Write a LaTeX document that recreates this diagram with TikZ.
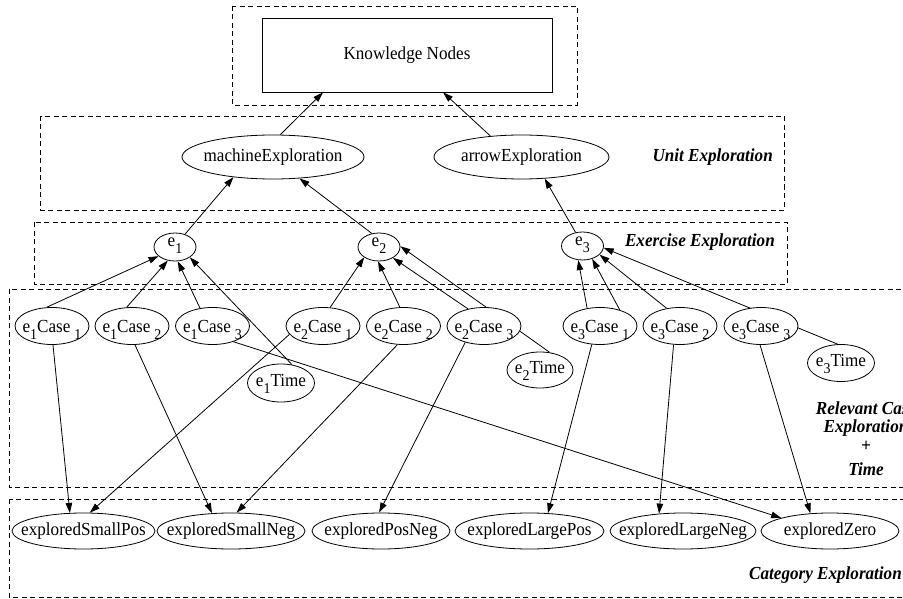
\documentclass[tikz,border=0pt]{standalone}
\usepackage{fontspec}
\setmainfont{Liberation Serif}[FakeStretch=0.93]
\usetikzlibrary{shapes.geometric,arrows.meta}
\pgfdeclarelayer{bg}
\pgfsetlayers{bg,main}
\newcommand\zb[1]{\makebox[0pt]{#1}}
\newcommand\sbs[1]{\raisebox{-7pt}{\fontsize{15}{15}\selectfont #1}}
\newcommand\ecase[2]{\zb{e\sbs{#1}Case\sbs{\hspace{4pt}#2}}}
\newcommand\etime[1]{\zb{e\sbs{#1}Time}}
\newcommand\enode[1]{\zb{e\sbs{#1}}}
\begin{document}
\begin{tikzpicture}[x=1pt,y=-1pt,
  base/.style={font=\fontsize{18.4}{21}\selectfont, inner sep=0pt},
  rectnode/.style={base, rectangle, draw, fill=white, line width=0.8pt},
  ell/.style={base, ellipse, draw, fill=white, line width=0.8pt},
  unitnode/.style={ell, minimum height=44pt},
  enodestyle/.style={ell, minimum width=42pt, minimum height=28pt, text height=6pt, text depth=8pt},
  casenode/.style={ell, minimum width=74pt, minimum height=37pt, text height=12pt, text depth=0pt},
  timenode/.style={ell, minimum width=67pt, minimum height=38pt, text height=12pt, text depth=5pt},
  catnode/.style={ell, minimum height=36pt},
  lbl/.style={base, font=\fontsize{18.4}{21}\selectfont\bfseries\itshape},
  grp/.style={line width=0.8pt, dash pattern=on 5pt off 3.5pt},
  conn/.style={line width=0.8pt, -{Triangle[length=10pt,width=6.5pt]}}
]
\useasboundingbox (0,0) rectangle (903,599);

% nodes
\node[rectnode, minimum width=290pt, minimum height=74pt] (kn) at (407,55) {Knowledge Nodes};
\node[unitnode, minimum width=182pt] (mach) at (273,157) {\zb{machineExploration}};
\node[unitnode, minimum width=175pt] (arrx) at (521.5,157) {\zb{arrowExploration}};

\node[enodestyle] (e1) at (175,247) {\enode{1}};
\node[enodestyle] (e2) at (379,247) {\enode{2}};
\node[enodestyle] (e3) at (582.5,246) {\enode{3}};

\node[casenode] (e1c1) at (52,326) {\ecase{1}{1}};
\node[casenode] (e1c2) at (132,326) {\ecase{1}{2}};
\node[casenode] (e1c3) at (212.5,326) {\ecase{1}{3}};
\node[casenode] (e2c1) at (323,326) {\ecase{2}{1}};
\node[casenode] (e2c2) at (403.5,326) {\ecase{2}{2}};
\node[casenode] (e2c3) at (484,326) {\ecase{2}{3}};
\node[casenode] (e3c1) at (600,326) {\ecase{3}{1}};
\node[casenode] (e3c2) at (680,326) {\ecase{3}{2}};
\node[casenode] (e3c3) at (761,326) {\ecase{3}{3}};

\node[timenode] (e1t) at (281,383) {\etime{1}};
\node[timenode, minimum height=36pt, minimum width=66pt] (e2t) at (540,370) {\etime{2}};
\node[timenode, minimum height=37pt] (e3t) at (841,363) {\etime{3}};

\node[catnode, minimum width=143pt] (sp) at (83.5,531) {\zb{exploredSmallPos}};
\node[catnode, minimum width=148pt] (sn) at (231,531) {\zb{exploredSmallNeg}};
\node[catnode, minimum width=138pt] (pn) at (381,531) {\zb{exploredPosNeg}};
\node[catnode, minimum width=149pt] (lp) at (529.5,531) {\zb{exploredLargePos}};
\node[catnode, minimum width=146pt] (ln) at (683,531) {\zb{exploredLargeNeg}};
\node[catnode, minimum width=138pt] (zero) at (830,531) {\zb{exploredZero}};

% labels
\node[lbl, anchor=east] (lunit) at (773,157) {Unit Exploration};
\node[lbl, anchor=east] (lex) at (775,242) {Exercise Exploration};
\node[lbl] (lrc1) at (866,408) {Relevant Case};
\node[lbl] (lrc2) at (866,428) {Exploration};
\node[lbl] (lrc3) at (866,446) {+};
\node[lbl] (lrc4) at (866,469) {Time};
\node[lbl, anchor=east] (lcat) at (902,575) {Category Exploration};

\begin{pgfonlayer}{bg}
% group boxes
\draw[grp] (232,6) rectangle (577,105);
\draw[grp] (40,116) rectangle (784,210);
\draw[grp] (34,222) rectangle (787,284);
\draw[grp] (9,289) rectangle (920,487);
\draw[grp] (9,499) rectangle (920,597);

% connectors
\draw[conn] (mach.72) -- (kn.204);
\draw[conn] (arrx.146) -- (kn.314);
\draw[conn] (e1.52) -- (mach.207);
\draw[conn] (e2.118) -- (mach.321);
\draw[conn] (e3.117) -- (arrx.317);

\draw[conn] (e1c1.106) -- (e1.209);
\draw[conn] (e1c2.106) -- (e1.242);
\draw[conn] (e1c3.125) -- (e1.281);
\draw[conn] (e1t.59) -- (e1.325);
\draw[conn] (e2c1.69) -- (e2.215);
\draw[conn] (e2c2.101) -- (e2.266);
\draw[conn] (e2c3.133) -- (e2.322);
\draw[conn] (e2t.61) -- (e2.2);
\draw[conn] (e3c1.126) -- (e3.253);
\draw[conn] (e3c1.39) -- (e3.307);
\draw[conn] (e3c2.127) -- (e3.333);
\draw[conn] (e3t.100) -- (e3.355);

\draw[conn] (e1c1.273) -- (sp.127);
\draw[conn] (e2c1.194) -- (sp.71);
\draw[conn] (e1c2.279) -- (sn.137);
\draw[conn] (e2c2.252) -- (sn.73);
\draw[conn] (e2c3.221) -- (pn.96);
\draw[conn] (e3c1.246) -- (lp.44);
\draw[conn] (e3c2.251) -- (ln.144);
\draw[conn] (e3c3.267) -- (zero.138);
\draw[conn] (e1c3.323) -- (zero.165);
\end{pgfonlayer}
\end{tikzpicture}
\end{document}
